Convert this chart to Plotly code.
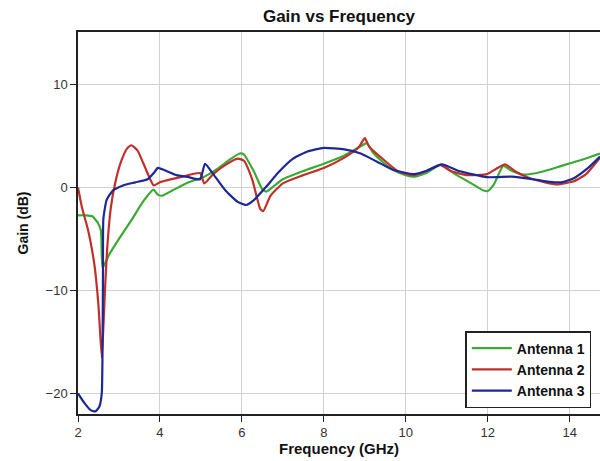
import plotly.graph_objects as go

# ── Data ─────────────────────────────────────────────────────────────────────
ant1_freq = [2.0, 2.2, 2.35, 2.48, 2.56, 2.6, 2.75, 3.0, 3.3, 3.6, 3.84, 3.95, 4.05,
             4.3, 4.7, 5.06, 5.4, 5.7, 5.95, 6.05, 6.3, 6.5, 6.6, 6.8, 7.0, 7.5,
             8.0, 8.5, 8.9, 9.05, 9.2, 9.4, 9.7, 10.0, 10.2, 10.5, 10.85, 11.2,
             11.6, 11.9, 12.0, 12.15, 12.38, 12.55, 12.85, 13.3, 13.8, 14.3, 14.74]
ant1_gain = [-2.7, -2.7, -2.8, -3.4, -4.2, -7.8, -6.6, -5.0, -3.2, -1.3, -0.2, -0.7, -0.8,
             -0.3, 0.5, 1.0, 1.8, 2.7, 3.3, 3.2, 1.5, -0.2, -0.4, 0.2, 0.8, 1.6,
             2.3, 3.1, 4.0, 4.3, 3.4, 2.6, 1.7, 1.2, 1.05, 1.4, 2.2, 1.3,
             0.4, -0.3, -0.35, 0.3, 2.1, 1.7, 1.25, 1.5, 2.1, 2.7, 3.3]

ant2_freq = [2.0, 2.1, 2.25, 2.4, 2.5, 2.58, 2.62, 2.67, 2.72, 2.8, 2.9, 3.05, 3.2,
             3.3, 3.45, 3.6, 3.75, 3.85, 4.0, 4.5, 4.98, 5.08, 5.3, 5.6, 5.9, 6.05,
             6.25, 6.45, 6.52, 6.7, 7.0, 7.5, 8.0, 8.5, 8.85, 9.0, 9.1, 9.4, 9.8,
             10.2, 10.5, 10.84, 11.1, 11.5, 11.98, 12.2, 12.42, 12.7, 13.03, 13.4,
             13.7, 14.1, 14.4, 14.74]
ant2_gain = [0.0, -2.0, -4.2, -7.5, -11.5, -16.5, -13.5, -9.0, -5.5, -2.0, 0.3, 2.5, 3.8,
             4.1, 3.6, 2.3, 0.9, 0.2, 0.5, 1.0, 1.4, 0.4, 1.3, 2.2, 2.8, 2.6,
             0.8, -2.1, -2.3, -0.8, 0.4, 1.2, 1.9, 2.9, 3.9, 4.8, 4.0, 2.9, 1.6,
             1.2, 1.6, 2.2, 1.6, 1.2, 1.3, 1.8, 2.25, 1.5, 0.9, 0.5,
             0.3, 0.6, 1.3, 2.9]

ant3_freq = [2.0, 2.15, 2.3, 2.42, 2.52, 2.58, 2.6, 2.61, 2.62, 2.7, 2.85, 3.1, 3.4,
             3.7, 3.85, 3.95, 4.1, 4.4, 4.7, 4.98, 5.1, 5.3, 5.6, 5.9, 6.1, 6.3,
             6.6, 6.9, 7.25, 7.6, 8.0, 8.5, 8.9, 9.3, 9.7, 10.2, 10.5, 10.88,
             11.3, 11.98, 12.6, 13.1, 13.5, 13.8, 14.1, 14.45, 14.74]
ant3_gain = [-20.0, -20.9, -21.6, -21.75, -21.3, -20.0, -15.0, -8.0, -3.0, -1.2, -0.3, 0.2, 0.5,
             0.8, 1.4, 1.9, 1.7, 1.2, 1.0, 0.8, 2.3, 1.3, -0.3, -1.4, -1.7, -1.2,
             0.1, 1.5, 2.8, 3.5, 3.85, 3.7, 3.3, 2.5, 1.7, 1.3, 1.6, 2.25,
             1.6, 1.0, 1.05, 0.8, 0.55, 0.5, 0.9, 1.9, 3.0]

x_ticks = [2, 4, 6, 8, 10, 12, 14]
y_ticks = [-20, -10, 0, 10]

# ── Styling ──────────────────────────────────────────────────────────────────
GREEN = "#3BAA34"
RED   = "#C0302B"
BLUE  = "#1C2896"
GRID  = "#D2D2D2"
FONT  = "Arial, Liberation Sans, sans-serif"

series = [
    ("Antenna 1", ant1_freq, ant1_gain, GREEN),
    ("Antenna 2", ant2_freq, ant2_gain, RED),
    ("Antenna 3", ant3_freq, ant3_gain, BLUE),
]

fig = go.Figure()
for name, xs, ys, color in series:
    fig.add_trace(go.Scatter(
        x=xs, y=ys, name=f"<b>{name}</b>", mode="lines",
        line=dict(color=color, width=2.2, shape="spline", smoothing=0.5),
    ))

axis_common = dict(
    showline=True, linecolor="#222222", linewidth=1.5, mirror=True,
    showgrid=True, gridcolor=GRID, gridwidth=1,
    ticks="outside", ticklen=6, tickcolor="#222222",
    zeroline=False, automargin=False,
    tickfont=dict(size=13, color="#333333", family=FONT),
)

fig.update_layout(
    width=600, height=461,
    margin=dict(l=78, r=0, t=32, b=47, autoexpand=False),
    paper_bgcolor="white", plot_bgcolor="white",
    font=dict(family=FONT, color="#111111"),
    title=dict(
        text="<b>Gain vs Frequency</b>", x=0.5, xref="paper",
        y=1 - 16 / 461, yref="container", yanchor="middle",
        font=dict(size=17, color="#111111", family=FONT),
    ),
    xaxis=dict(
        range=[2, 14.74], tickvals=x_ticks,
        title=dict(text="<b>Frequency (GHz)</b>", standoff=2,
                   font=dict(size=15, family=FONT)),
        **axis_common,
    ),
    yaxis=dict(
        range=[-22, 15.1], tickvals=y_ticks,
        title=dict(text="<b>Gain (dB)</b>", standoff=14,
                   font=dict(size=14, family=FONT)),
        **axis_common,
    ),
    legend=dict(
        x=0.742, y=0.217, xanchor="left", yanchor="top",
        bgcolor="white", bordercolor="#222222", borderwidth=1.5,
        font=dict(size=14, family=FONT, color="#111111"),
        itemwidth=40, tracegroupgap=0,
    ),
    showlegend=True,
)

# the page's default body margin would push the 600x461 figure off-screen
fig.write_html(
    "out.html",
    config={"displayModeBar": False},
    post_script="document.body.style.margin='0';document.body.style.overflow='hidden';",
)
